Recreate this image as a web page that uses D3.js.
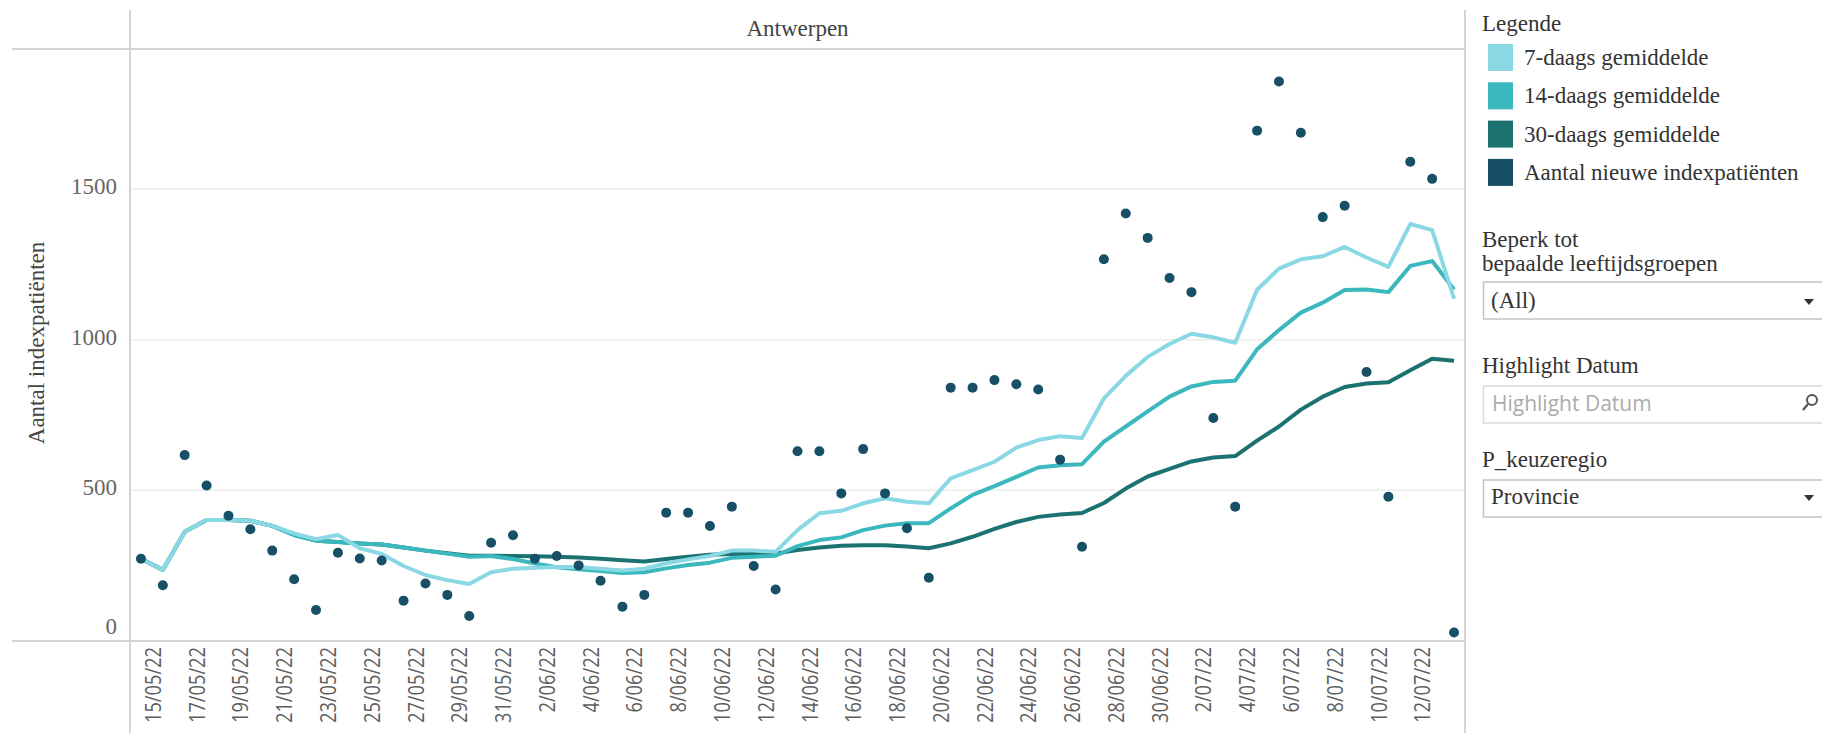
<!DOCTYPE html>
<html>
<head>
<meta charset="utf-8" />
<title>Antwerpen - indexpatiënten</title>
<script src="https://cdn.jsdelivr.net/npm/d3@7"></script>
<style>
  body { margin: 0; background: #fff; }
  svg { display: block; }
</style>
</head>
<body>
<div id="chart"></div>
<script>
// dates on the x axis (one mark per day)
var dates = [
  '15/05/22','16/05/22','17/05/22','18/05/22','19/05/22','20/05/22','21/05/22','22/05/22','23/05/22','24/05/22',
  '25/05/22','26/05/22','27/05/22','28/05/22','29/05/22','30/05/22','31/05/22','1/06/22','2/06/22','3/06/22',
  '4/06/22','5/06/22','6/06/22','7/06/22','8/06/22','9/06/22','10/06/22','11/06/22','12/06/22','13/06/22',
  '14/06/22','15/06/22','16/06/22','17/06/22','18/06/22','19/06/22','20/06/22','21/06/22','22/06/22','23/06/22',
  '24/06/22','25/06/22','26/06/22','27/06/22','28/06/22','29/06/22','30/06/22','1/07/22','2/07/22','3/07/22',
  '4/07/22','5/07/22','6/07/22','7/07/22','8/07/22','9/07/22','10/07/22','11/07/22','12/07/22','13/07/22',
  '14/07/22'
];
// only every other date gets a label
var tickDates = [
  '15/05/22','17/05/22','19/05/22','21/05/22','23/05/22','25/05/22','27/05/22','29/05/22','31/05/22',
  '2/06/22','4/06/22','6/06/22','8/06/22','10/06/22','12/06/22','14/06/22','16/06/22','18/06/22','20/06/22',
  '22/06/22','24/06/22','26/06/22','28/06/22','30/06/22','2/07/22','4/07/22','6/07/22','8/07/22','10/07/22','12/07/22'
];
var yTicks = [0, 500, 1000, 1500];

var nieuwe = [273,185,617,516,416,371,300,205,103,293,
  274,267,134,191,153,83,326,351,273,282,
  251,200,114,153,426,426,382,446,249,171,
  630,630,490,637,490,374,210,841,841,866,
  852,835,602,313,1267,1419,1338,1205,1158,740,
  446,1694,1857,1687,1407,1445,893,479,1591,1534,
  28];
var gem7 = [273,236,363,402,402,399,382,357,338,352,
  308,289,249,219,202,189,228,240,243,246,
  246,240,234,240,258,271,282,300,300,296,
  368,424,432,457,474,462,457,540,567,595,
  642,667,680,674,805,880,943,986,1020,1008,
  990,1166,1236,1267,1277,1308,1273,1242,1384,1364,
  1136];
var gem14 = [273,236,363,402,402,399,382,352,333,329,
  324,320,310,300,290,280,282,272,257,245,
  238,232,226,228,241,252,260,276,280,283,
  315,335,344,368,383,391,391,440,485,514,
  545,576,583,587,662,712,762,811,845,860,
  864,968,1032,1090,1123,1165,1167,1158,1245,1261,
  1167];
var gem30 = [273,236,363,402,402,399,382,352,333,329,
  324,320,310,300,291,283,283,282,281,280,
  277,273,268,264,272,280,286,289,289,290,
  302,310,316,318,318,314,308,324,346,372,
  395,412,420,425,458,506,546,571,596,609,
  614,665,712,768,811,843,855,859,899,937,
  930];

var legendNames = ['7-daags gemiddelde', '14-daags gemiddelde', '30-daags gemiddelde', 'Aantal nieuwe indexpatiënten'];

(function () {
  var serif = "'Liberation Serif', 'Times New Roman', serif";
  var sans = "'Open Sans', 'Noto Sans', sans-serif";
  var colors = ['#8ad8e4', '#3ab8bd', '#1b7271', '#174f67'];

  var W = 1822, H = 733;
  var pLeft = 130, pRight = 1465, pTop = 49, pBottom = 641;

  var svg = d3.select('#chart').append('svg')
    .attr('width', W)
    .attr('height', H);

  var x = d3.scalePoint().domain(dates).range([pLeft, pRight]).padding(0.5);
  var y = d3.scaleLinear().domain([0, 1965]).range([pBottom, pTop]);

  // gridlines
  svg.selectAll('line.grid')
    .data(yTicks.filter(function (d) { return d > 0; }))
    .enter().append('line')
    .attr('class', 'grid')
    .attr('x1', pLeft).attr('x2', pRight)
    .attr('y1', function (d) { return y(d); })
    .attr('y2', function (d) { return y(d); })
    .attr('stroke', '#ededed')
    .attr('stroke-width', 1.5);

  // frame: header line, axis line and the two pane borders
  var frame = [[12, pTop, pRight, pTop], [12, pBottom, pRight, pBottom], [pLeft, 10, pLeft, H], [pRight, 10, pRight, H]];
  svg.selectAll('line.frame')
    .data(frame)
    .enter().append('line')
    .attr('class', 'frame')
    .attr('x1', function (d) { return d[0]; })
    .attr('y1', function (d) { return d[1]; })
    .attr('x2', function (d) { return d[2]; })
    .attr('y2', function (d) { return d[3]; })
    .attr('stroke', '#d4d4d4')
    .attr('stroke-width', 2);

  svg.append('text')
    .attr('x', (pLeft + pRight) / 2)
    .attr('y', 36)
    .attr('text-anchor', 'middle')
    .attr('font-family', serif)
    .attr('font-size', 23)
    .attr('fill', '#444')
    .text('Antwerpen');

  // y axis labels (0 is pushed up inside the pane like tableau does)
  svg.selectAll('text.ytick')
    .data(yTicks)
    .enter().append('text')
    .attr('class', 'ytick')
    .attr('x', 117)
    .attr('y', function (d) { return d === 0 ? y(d) - 7 : y(d) + 5; })
    .attr('text-anchor', 'end')
    .attr('font-family', serif)
    .attr('font-size', 23)
    .attr('fill', '#666')
    .text(function (d) { return d; });

  svg.append('text')
    .attr('transform', 'translate(44,343) rotate(-90)')
    .attr('text-anchor', 'middle')
    .attr('font-family', serif)
    .attr('font-size', 23)
    .attr('fill', '#444')
    .text('Aantal indexpatiënten');

  // x axis labels, rotated
  svg.selectAll('text.xtick')
    .data(tickDates)
    .enter().append('text')
    .attr('class', 'xtick')
    .attr('transform', function (d) { return 'translate(' + (x(d) + 20) + ',647) rotate(-90) scale(0.83,1)'; })
    .attr('text-anchor', 'end')
    .attr('font-family', sans)
    .attr('font-size', 22)
    .attr('fill', '#5e5e5e')
    .text(function (d) { return d; });

  // lines, 30 first so the 7-daags sits on top
  var series = [
    { name: legendNames[2], values: gem30, color: colors[2] },
    { name: legendNames[1], values: gem14, color: colors[1] },
    { name: legendNames[0], values: gem7, color: colors[0] }
  ];
  var line = d3.line()
    .x(function (d, i) { return x(dates[i]); })
    .y(function (d) { return y(d); });

  svg.selectAll('path.avg')
    .data(series)
    .enter().append('path')
    .attr('class', 'avg')
    .attr('d', function (s) { return line(s.values); })
    .attr('fill', 'none')
    .attr('stroke', function (s) { return s.color; })
    .attr('stroke-width', 4)
    .attr('stroke-linejoin', 'round');

  svg.selectAll('circle.dot')
    .data(nieuwe)
    .enter().append('circle')
    .attr('class', 'dot')
    .attr('cx', function (d, i) { return x(dates[i]); })
    .attr('cy', function (d) { return y(d); })
    .attr('r', 5)
    .attr('fill', colors[3]);

  // right side panel
  var panel = svg.append('g');

  panel.append('text')
    .attr('x', 1482).attr('y', 31)
    .attr('font-family', serif).attr('font-size', 23).attr('fill', '#333')
    .text('Legende');

  var leg = panel.selectAll('g.leg')
    .data(legendNames)
    .enter().append('g')
    .attr('class', 'leg')
    .attr('transform', function (d, i) { return 'translate(0,' + (i * 38.3) + ')'; });
  leg.append('rect')
    .attr('x', 1488).attr('y', 44)
    .attr('width', 25).attr('height', 27)
    .attr('fill', function (d, i) { return colors[i]; });
  leg.append('text')
    .attr('x', 1524).attr('y', 65)
    .attr('font-family', serif).attr('font-size', 23).attr('fill', '#333')
    .text(function (d) { return d; });

  function label(txt, ty) {
    panel.append('text')
      .attr('x', 1482).attr('y', ty)
      .attr('font-family', serif).attr('font-size', 23).attr('fill', '#333')
      .text(txt);
  }
  function box(by, border) {
    panel.append('rect')
      .attr('x', 1483.5).attr('y', by)
      .attr('width', 400).attr('height', 37)
      .attr('fill', '#fff')
      .attr('stroke', border).attr('stroke-width', 1.5);
  }
  function arrow(cy) {
    panel.append('path')
      .attr('d', 'M1804,' + (cy - 3) + 'L1814,' + (cy - 3) + 'L1809,' + (cy + 3) + 'Z')
      .attr('fill', '#333');
  }

  label('Beperk tot', 247);
  label('bepaalde leeftijdsgroepen', 271);
  box(282, '#c2c2c2');
  panel.append('text')
    .attr('x', 1491).attr('y', 308)
    .attr('font-family', serif).attr('font-size', 23).attr('fill', '#333')
    .text('(All)');
  arrow(302);

  label('Highlight Datum', 373);
  box(386, '#dadada');
  panel.append('text')
    .attr('x', 1492).attr('y', 411)
    .attr('font-family', sans).attr('font-size', 21).attr('fill', '#ababab')
    .text('Highlight Datum');
  panel.append('circle')
    .attr('cx', 1812).attr('cy', 400).attr('r', 5)
    .attr('fill', 'none').attr('stroke', '#555').attr('stroke-width', 2);
  panel.append('line')
    .attr('x1', 1808).attr('y1', 404).attr('x2', 1803).attr('y2', 410)
    .attr('stroke', '#555').attr('stroke-width', 2.2);

  label('P_keuzeregio', 467);
  box(480, '#c2c2c2');
  panel.append('text')
    .attr('x', 1491).attr('y', 504)
    .attr('font-family', serif).attr('font-size', 23).attr('fill', '#333')
    .text('Provincie');
  arrow(498);
})();
</script>
</body>
</html>
